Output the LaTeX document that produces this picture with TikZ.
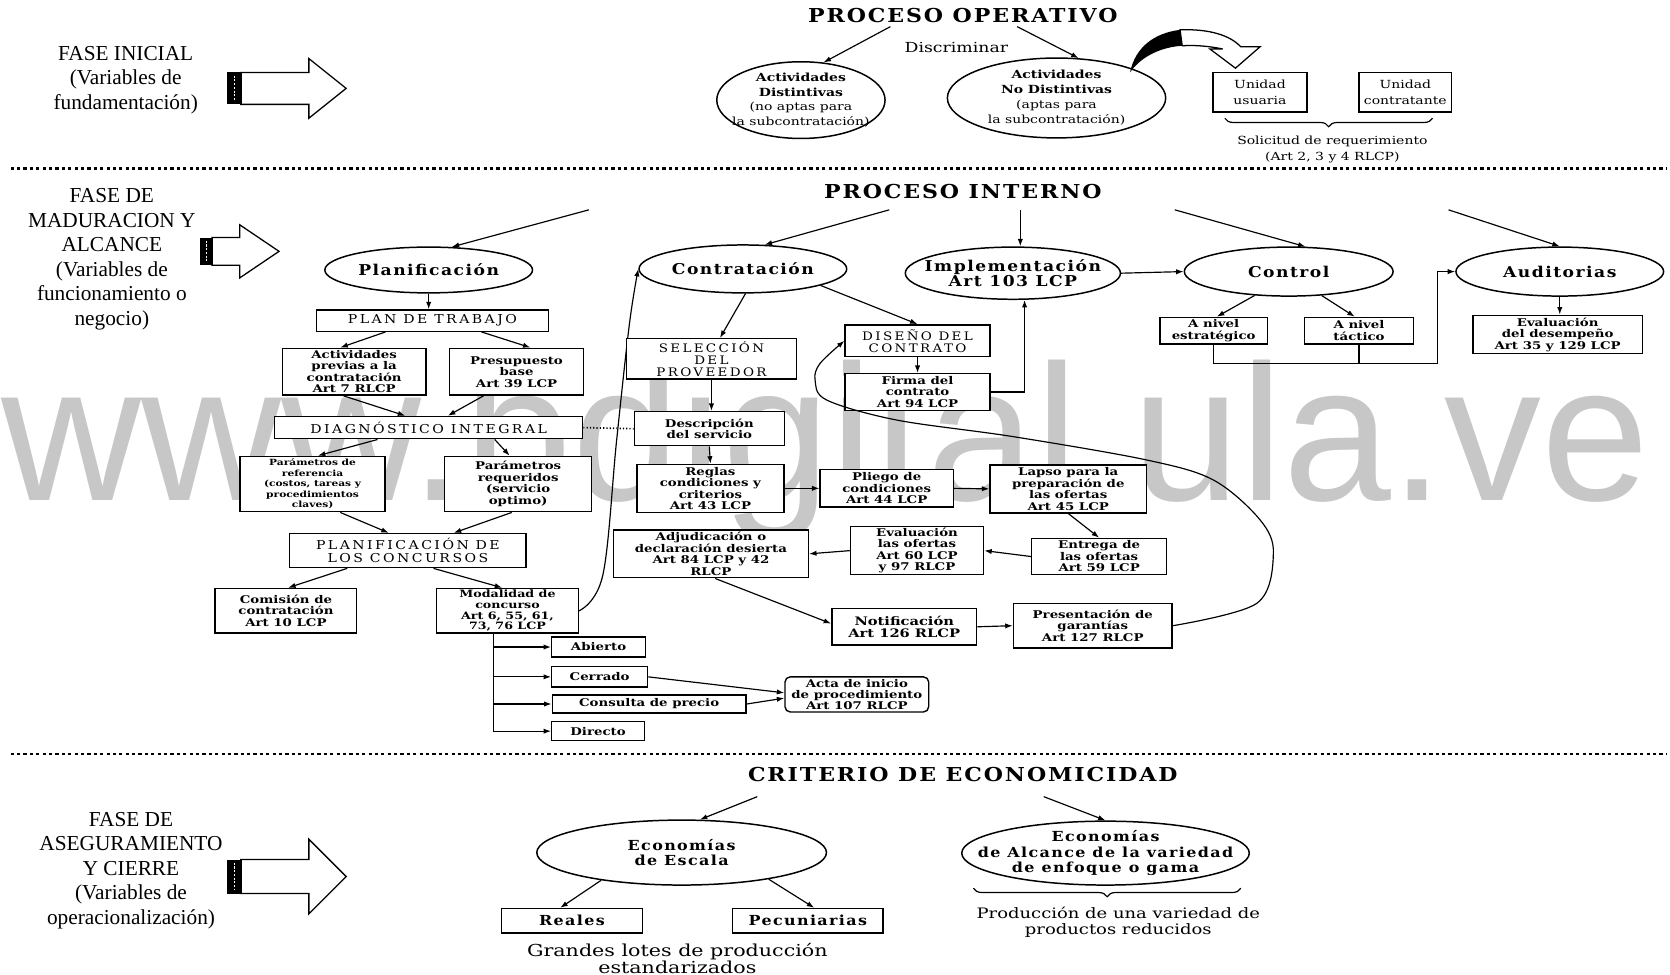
\documentclass[tikz,border=0pt]{standalone}
\usepackage{fontspec}
\setmainfont{Liberation Serif}
\newfontfamily\boxfont{DejaVu Serif}[FakeStretch=1.25]
\newfontfamily\elfont{DejaVu Serif}[FakeStretch=1.15,LetterSpace=10]
\newfontfamily\capfont{DejaVu Serif}[FakeStretch=1.15,LetterSpace=20]
\newfontfamily\wmfont{Liberation Sans}
\usetikzlibrary{shapes.geometric,arrows.meta,positioning}
\usetikzlibrary{decorations.pathreplacing}
\tikzset{caja/.style={draw, line width=1.3pt, fill=white, inner sep=1pt, align=center,
                      font=\boxfont\bfseries\fontsize{10}{10.8}\selectfont},
        cajan/.style={caja, font=\boxfont\fontsize{10.5}{15}\selectfont},
        cajacap/.style={caja, font=\capfont\fontsize{11.5}{12}\selectfont},
        elipse/.style={ellipse, draw, line width=1.4pt, fill=white, inner sep=-15pt, align=center,
                       font=\elfont\bfseries\fontsize{14}{14}\selectfont},
        titulo/.style={inner sep=0pt, font=\elfont\bfseries\fontsize{18}{20}\selectfont},
        txt/.style={align=center, inner sep=0pt, font=\boxfont\fontsize{10.5}{15}\selectfont},
        fase/.style={align=center, inner sep=0pt, font=\fontsize{20}{23}\selectfont},
        flecha/.style={-{Latex[length=7pt,width=5pt]}, line width=1.1pt},
        linea/.style={line width=1.1pt},
        separador/.style={line width=2.5pt, dash pattern=on 3pt off 3pt},
        llave/.style={line width=1.1pt, decorate, decoration={brace, mirror, amplitude=8pt}},
        }

\begin{document}
\begin{tikzpicture}[x=1pt, y=-1pt]
    \fill[white] (0,0) rectangle (1568,915);
    \useasboundingbox (0,0) rectangle (1568,915);
    \node[font=\wmfont\fontsize{182}{182}\selectfont, text=black!22, anchor=base west, inner sep=0pt]
        (wm) at (1,470) {www.bdigital.ula.ve};

    % fases
    \node[fase] (f1) at (118,75) {FASE INICIAL\\(Variables de\\fundamentación)};
    \node[fase] (f2) at (105,243.5) {FASE DE\\MADURACION Y\\ALCANCE\\(Variables de\\funcionamiento o\\negocio)};
    \node[fase] (f3) at (123,817.5) {FASE DE\\ASEGURAMIENTO\\Y CIERRE\\(Variables de\\operacionalización)};

    \draw[line width=1.2pt, fill=white] (226,68) -- (290,68) -- (290,55) -- (325,83) -- (290,111) -- (290,98) -- (226,98) -- cycle;
    \fill (213,68) rectangle (227,98);
    \draw[white, line width=1.2pt, dash pattern=on 2pt off 1.5pt] (220,71) -- (220,95);
    \draw[line width=1.2pt, fill=white] (199,223) -- (225,223) -- (225,211) -- (262,236) -- (225,261) -- (225,249) -- (199,249) -- cycle;
    \fill (188,223) rectangle (200,249);
    \draw[white, line width=1.2pt, dash pattern=on 2pt off 1.5pt] (194,226) -- (194,246);
    \draw[line width=1.2pt, fill=white] (226,807) -- (290,807) -- (290,788) -- (325,823) -- (290,858) -- (290,839) -- (226,839) -- cycle;
    \fill (213,807) rectangle (227,839);
    \draw[white, line width=1.2pt, dash pattern=on 2pt off 1.5pt] (220,810) -- (220,836);

    \draw[separador] (10,158) -- (1565,158);
    \draw[separador] (10,708) -- (1565,708);

    % proceso operativo
    \node[titulo] (opt) at (904,15) {PROCESO OPERATIVO};
    \node[txt, font=\boxfont\fontsize{13}{15}\selectfont] (disc) at (898,45) {Discriminar};
    \node[elipse, minimum width=158, minimum height=72, font=\boxfont\fontsize{10.5}{14}\selectfont]
        (actd) at (752,94) {\textbf{Actividades}\\\textbf{Distintivas}\\(no aptas para\\la subcontratación)};
    \node[elipse, minimum width=205, minimum height=75, font=\boxfont\fontsize{10.5}{14}\selectfont]
        (actnd) at (992,92) {\textbf{Actividades}\\\textbf{No Distintivas}\\(aptas para\\la subcontratación)};
    \node[cajan, minimum width=88, minimum height=37] (uusu) at (1183,86.5) {Unidad\\usuaria};
    \node[cajan, minimum width=87, minimum height=37] (ucon) at (1319.5,86.5) {Unidad\\contratante};
    \node[txt] (soli) at (1251,140) {Solicitud de requerimiento\\(Art 2, 3 y 4 RLCP)};
    \draw[llave] (1150,111) -- (1345,111);
    \draw[flecha] ([xshift=-68pt,yshift=-3pt]opt.south) -- (actd.59);
    \draw[flecha] ([xshift=51pt,yshift=-3pt]opt.south) -- (actnd.61);
    \fill (1061,68) .. controls (1066,44) and (1084,31) .. (1108,28) -- (1110,43)
        .. controls (1092,44) and (1072,52) .. (1061,68) -- cycle;
    \draw[line width=1.2pt, fill=white] (1108,28) .. controls (1135,27) and (1155,33) .. (1165,44)
        -- (1183,44) -- (1160,64) -- (1136,46) -- (1148,46) .. controls (1138,44) and (1125,42) .. (1110,43) -- cycle;

    % proceso interno
    \node[titulo] (pint) at (904,180) {PROCESO INTERNO};
    \coordinate (pi1) at (553,197);
    \coordinate (pi2) at (835,197);
    \coordinate (pi3) at (958,197);
    \coordinate (pi4) at (1103,197);
    \coordinate (pi5) at (1360,197);
    \node[elipse, minimum width=195, minimum height=43] (plan) at (402.5,253.5) {Planificación};
    \node[elipse, minimum width=195, minimum height=45] (cont) at (697.5,252.5) {Contratación};
    \node[elipse, minimum width=202, minimum height=49] (impl) at (951,256.5) {Implementación\\Art 103 LCP};
    \node[elipse, minimum width=196, minimum height=46] (ctrl) at (1210,255) {Control};
    \node[elipse, minimum width=195, minimum height=46] (aud) at (1464.5,255) {Auditorias};
    \draw[flecha] (pi1) -- (plan.45);
    \draw[flecha] (pi2) -- (cont.48);
    \draw[flecha] (pi3) -- (pi3 |- impl.north);
    \draw[flecha] (pi4) -- (ctrl.56);
    \draw[flecha] (pi5) -- (aud.north);
    \draw[flecha] (impl.east) -- (ctrl.west);

    \node[cajacap, minimum width=218, minimum height=20] (pt) at (406,301) {PLAN DE TRABAJO};
    \node[caja, minimum width=135, minimum height=44] (act) at (332.5,349) {Actividades\\previas a la\\contratación\\Art 7 RLCP};
    \node[caja, minimum width=126, minimum height=44] (pres) at (485,349) {Presupuesto\\base\\Art 39 LCP};
    \node[cajacap, minimum width=289, minimum height=21] (diag) at (402.5,401.5) {DIAGNÓSTICO INTEGRAL};
    \node[caja, minimum width=136, minimum height=52, font=\boxfont\bfseries\fontsize{8}{9.8}\selectfont]
        (pref) at (293.5,454.5) {Parámetros de\\referencia\\(costos, tareas y\\procedimientos\\claves)};
    \node[caja, minimum width=138, minimum height=52] (preq) at (486.5,454.5) {Parámetros\\requeridos\\(servicio\\optimo)};
    \node[cajacap, minimum width=222, minimum height=32] (pconc) at (383,517) {PLANIFICACIÓN DE\\LOS CONCURSOS};
    \node[caja, minimum width=133, minimum height=42] (com) at (268.5,573.5) {Comisión de\\contratación\\Art 10 LCP};
    \node[caja, minimum width=133, minimum height=42, font=\boxfont\bfseries\fontsize{9.5}{10}\selectfont]
        (moda) at (476.5,573.5) {Modalidad de\\concurso\\Art 6, 55, 61,\\73, 76 LCP};
    \node[caja, minimum width=88, minimum height=19] (abi) at (562,607.5) {Abierto};
    \node[caja, minimum width=90, minimum height=19] (cer) at (563,635.5) {Cerrado};
    \node[caja, minimum width=182, minimum height=17] (cpre) at (609.5,661) {Consulta de precio};
    \node[caja, minimum width=87, minimum height=18] (dir) at (561.5,686.5) {Directo};
    \node[caja, rounded corners=5pt, minimum width=135, minimum height=33, font=\boxfont\bfseries\fontsize{10}{10.4}\selectfont]
        (acta) at (804.5,652) {Acta de inicio\\de procedimiento\\Art 107 RLCP};

    \draw[flecha] (plan.south) -- (plan.south |- pt.north);
    \draw[flecha] ([xshift=-44pt]pt.south) -- ([xshift=-13pt]act.north);
    \draw[flecha] ([xshift=46pt]pt.south) -- ([xshift=13pt]pres.north);
    \draw[flecha] ([xshift=-10pt]act.south) -- ([xshift=-22pt]diag.north);
    \draw[flecha] ([xshift=-31pt]pres.south) -- ([xshift=18pt]diag.north);
    \draw[flecha] ([xshift=-48pt]diag.south) -- ([xshift=5pt]pref.north);
    \draw[flecha] ([xshift=62pt]diag.south) -- ([xshift=-8pt]preq.north);
    \draw[flecha] ([xshift=26pt]pref.south) -- ([xshift=-18pt]pconc.north);
    \draw[flecha] ([xshift=-6pt]preq.south) -- ([xshift=43pt]pconc.north);
    \draw[flecha] ([xshift=-57pt]pconc.south) -- ([xshift=2pt]com.north);
    \draw[flecha] ([xshift=24pt]pconc.south) -- ([xshift=-5pt]moda.north);
    \coordinate (br) at ([xshift=-13pt]moda.south);
    \foreach \n in {abi,cer,cpre,dir}
        \draw[flecha] (br) |- (\n.west);
    \draw[flecha] (cer.east) -- ([yshift=1.5pt]acta.west);
    \draw[flecha] (cpre.east) -- ([yshift=-3.5pt]acta.west);
    \draw[flecha] plot[smooth, tension=0.6] coordinates {(moda.east) (566,540) (579,413) (591,304) (cont.west)};

    \node[cajacap, minimum width=160, minimum height=38, font=\capfont\fontsize{11}{11.5}\selectfont]
        (sel) at (668,337) {SELECCIÓN\\DEL\\PROVEEDOR};
    \node[caja, minimum width=141, minimum height=32] (desc) at (666,402.5) {Descripción\\del servicio};
    \node[caja, minimum width=138, minimum height=45] (reg) at (667,458.5) {Reglas\\condiciones y\\criterios\\Art 43 LCP};
    \node[caja, minimum width=125, minimum height=35] (pli) at (832.5,458.5) {Pliego de\\condiciones\\Art 44 LCP};
    \node[caja, minimum width=147, minimum height=45] (lap) at (1003,459) {Lapso para la\\preparación de\\las ofertas\\Art 45 LCP};
    \node[caja, minimum width=183, minimum height=45] (adj) at (667.5,520) {Adjudicación o\\declaración desierta\\Art 84 LCP y 42\\RLCP};
    \node[caja, minimum width=125, minimum height=45] (eva) at (861,517) {Evaluación\\las ofertas\\Art 60 LCP\\y 97 RLCP};
    \node[caja, minimum width=127, minimum height=34] (ent) at (1032,522.5) {Entrega de\\las ofertas\\Art 59 LCP};
    \node[caja, minimum width=136, minimum height=34, font=\boxfont\bfseries\fontsize{11}{12}\selectfont]
        (noti) at (849,588.5) {Notificación\\Art 126 RLCP};
    \node[caja, minimum width=149, minimum height=42] (gar) at (1026,587.5) {Presentación de\\garantías\\Art 127 RLCP};
    \node[cajacap, minimum width=136, minimum height=30, font=\capfont\fontsize{11}{11.5}\selectfont]
        (dis) at (861.5,320) {DISEÑO DEL\\CONTRATO};
    \node[caja, minimum width=136, minimum height=34.5] (fir) at (861.5,368) {Firma del\\contrato\\Art 94 LCP};

    \draw[linea, dotted, line width=1.6pt] (diag.east) -- (desc.west);
    \draw[flecha] (cont.-84) -- ([xshift=8pt]sel.north);
    \draw[flecha] (cont.-12) -- (dis.north);
    \draw[flecha] (sel.south) -- (sel.south |- desc.north);
    \draw[flecha] (desc.south) -- (reg.north);
    \draw[flecha] (reg.east) -- (pli.west);
    \draw[flecha] (pli.east) -- (lap.west);
    \draw[flecha] (lap.south) -- (ent.north);
    \draw[flecha] (ent.west) -- (eva.east);
    \draw[flecha] (eva.west) -- (adj.east);
    \draw[flecha] ([xshift=4pt]adj.south) -- ([yshift=3pt]noti.west);
    \draw[flecha] (noti.east) -- (gar.west);
    \draw[flecha] plot[smooth, tension=0.55] coordinates {(gar.east) (1180,566.5) (1195.6,519.5) (1183,488)
        (1139.3,450.7) (1076.7,431.9) (951.5,410) (842,394.4) (776.2,375.6) (765.3,356.8) (770,341.2) (dis.west)};
    \draw[flecha] (dis.south) -- (fir.north);
    \draw[flecha] (fir.east) -| ([xshift=11pt]impl.south);

    \node[caja, minimum width=101, minimum height=25] (est) at (1139.5,310.5) {A nivel\\estratégico};
    \node[caja, minimum width=102, minimum height=25] (tac) at (1276,310.5) {A nivel\\táctico};
    \node[caja, minimum width=159, minimum height=36] (evd) at (1462.5,314) {Evaluación\\del desempeño\\Art 35 y 129 LCP};
    \draw[flecha] (ctrl.-145) -- ([xshift=3pt]est.north);
    \draw[flecha] (ctrl.-36) -- ([xshift=-4pt]tac.north);
    \coordinate (audin) at ([xshift=-17pt]aud.west);
    \draw[flecha] (est.south) -- ++(0,18) -| (audin) -- (aud.west);
    \draw[linea] (tac.south) -- ++(0,18);
    \draw[flecha] (aud.south) -- (aud.south |- evd.north);

    % criterio de economicidad
    \node[titulo] (crit) at (904,727) {CRITERIO DE ECONOMICIDAD};
    \coordinate (cr1) at (711,748);
    \coordinate (cr2) at (980,748);
    \node[elipse, minimum width=272, minimum height=61, font=\elfont\bfseries\fontsize{13}{14}\selectfont]
        (esc) at (640,800.5) {Economías\\de Escala};
    \node[elipse, minimum width=270, minimum height=60, inner xsep=-35pt, font=\elfont\bfseries\fontsize{13}{14.5}\selectfont]
        (alc) at (1038,801) {Economías\\de Alcance de la variedad\\de enfoque o gama};
    \node[caja, minimum width=132, minimum height=23, font=\elfont\bfseries\fontsize{13}{14}\selectfont] (rea) at (537,864.5) {Reales};
    \node[caja, minimum width=141, minimum height=23, font=\elfont\bfseries\fontsize{13}{14}\selectfont] (pec) at (758.5,864.5) {Pecuniarias};
    \node[txt, font=\boxfont\fontsize{15.5}{15}\selectfont] (gra) at (636,900) {Grandes lotes de producción\\estandarizados};
    \draw[llave] (914,834) -- (1165,834);
    \node[txt, font=\boxfont\fontsize{13.5}{15}\selectfont] (prod) at (1050,866) {Producción de una variedad de\\productos reducidos};
    \draw[flecha] (cr1) -- (esc.61);
    \draw[flecha] (cr2) -- (alc.north);
    \draw[flecha] (esc.-161) -- ([xshift=-11pt]rea.north);
    \draw[flecha] (esc.-17) -- ([xshift=6pt]pec.north);
\end{tikzpicture}
\end{document}
